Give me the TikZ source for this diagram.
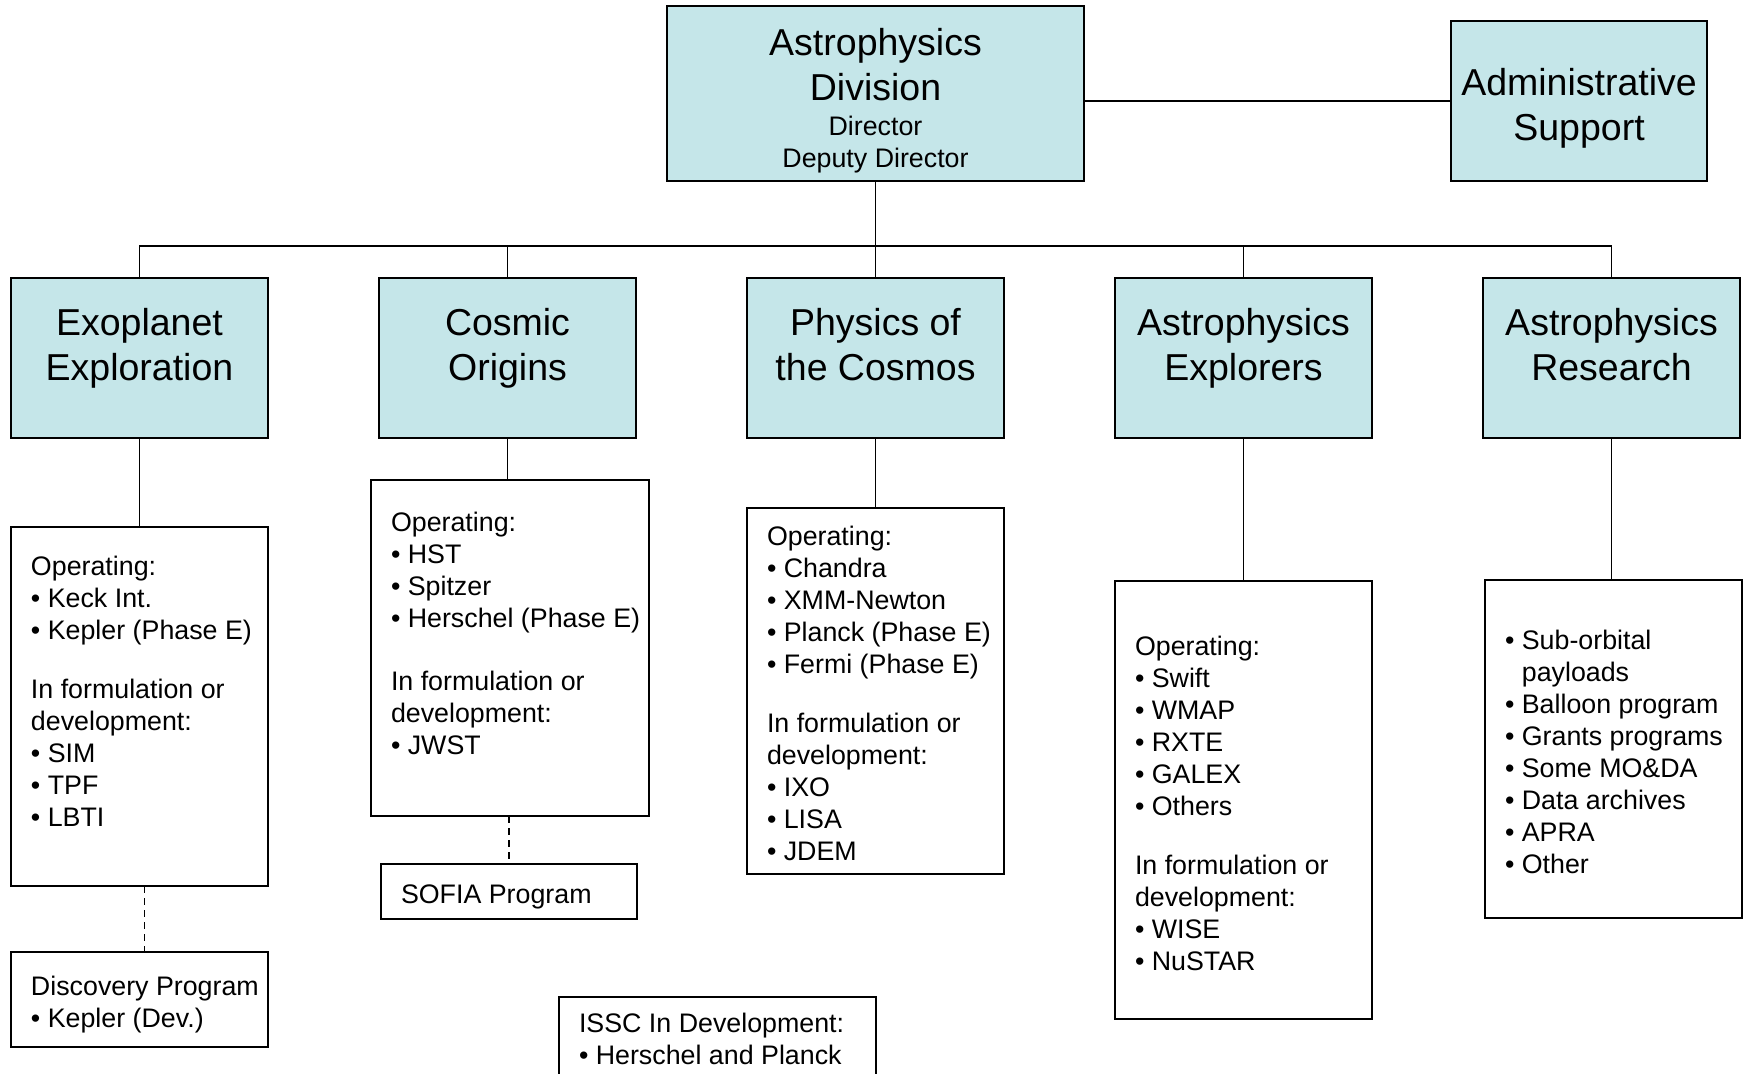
\documentclass[tikz,border=0pt]{standalone}
\usepackage{fontspec}
\setmainfont{Liberation Sans}
\definecolor{boxfill}{HTML}{C5E6E9}
\newcommand\HeadF{\fontsize{18.75}{22.65}\selectfont}
\newcommand\SmallF{\fontsize{13.4}{16}\selectfont}
\newcommand\TopF{\fontsize{13.4}{16.2}\selectfont}
\newcommand\HS{\rule{0pt}{15pt}}
\newcommand\LS{\rule{0pt}{11pt}}
\AtBeginDocument{\lineskiplimit=-30pt\relax}
\begin{document}
\begin{tikzpicture}[
  x=0.5pt, y=-0.5pt,
  every node/.style={inner sep=0pt, outer sep=0pt},
  every label/.style={inner sep=0pt, outer sep=0pt},
  hbox/.style={draw=black, line width=0.8pt, fill=boxfill, minimum width=128.5pt, minimum height=80pt},
  lbox/.style={draw=black, line width=0.8pt, fill=white, minimum width=128.5pt},
  conn/.style={line width=0.7pt},
  dconn/.style={line width=0.7pt, dash pattern=on 3.5pt off 2.5pt},
  htxt/.style={font=\HeadF, align=center, anchor=north},
  ltxt/.style={font=\SmallF, align=left, anchor=north west, xshift=10pt},
]
\useasboundingbox (0,0) rectangle (1743,1073);

% top level
\node[hbox, minimum width=208.5pt, minimum height=87.5pt,
  label={[font=\TopF, align=center, anchor=north, yshift=-9.6pt]north:{\HS{\HeadF Astrophysics}\\[6.3pt]{\HeadF Division}\\[1.2pt]Director\\Deputy Director}}]
  (top) at (875.5,93.5) {};
\node[hbox, minimum width=128pt, minimum height=80pt,
  label={[htxt, yshift=-22pt]north:{\HS Administrative\\Support}}]
  (adm) at (1579,101) {};

% headings
\node[hbox, label={[htxt, yshift=-13.5pt]north:{\HS Exoplanet\\Exploration}}] (h1) at (139.5,358) {};
\node[hbox, label={[htxt, yshift=-13.5pt]north:{\HS Cosmic\\Origins}}] (h2) at (507.5,358) {};
\node[hbox, label={[htxt, yshift=-13.5pt]north:{\HS Physics of\\the Cosmos}}] (h3) at (875.5,358) {};
\node[hbox, label={[htxt, yshift=-13.5pt]north:{\HS Astrophysics\\Explorers}}] (h4) at (1243.5,358) {};
\node[hbox, label={[htxt, yshift=-13.5pt]north:{\HS Astrophysics\\Research}}] (h5) at (1611.5,358) {};

% lower boxes
\node[lbox, minimum height=179.5pt,
  label={[ltxt, yshift=-13.4pt]north west:{\LS Operating:\\• Keck Int.\\• Kepler (Phase E)\\[13.4pt]In formulation or\\development:\\• SIM\\• TPF\\• LBTI}}]
  (eops) at (139.5,706.5) {};
\node[lbox, minimum height=47.5pt,
  label={[ltxt, yshift=-10.6pt]north west:{\LS Discovery Program\\• Kepler (Dev.)}}]
  (disc) at (139.5,999.5) {};
\node[lbox, minimum width=139pt, minimum height=168pt,
  label={[ltxt, yshift=-14.5pt]north west:{\LS Operating:\\• HST\\• Spitzer\\• Herschel (Phase E)\\[15.6pt]In formulation or\\development:\\• JWST}}]
  (cops) at (510,648) {};
\node[lbox, minimum width=128pt, minimum height=27.5pt,
  label={[ltxt, yshift=-8.6pt]north west:{\LS SOFIA Program}}]
  (sofia) at (509,891.5) {};
\node[lbox, minimum height=183pt,
  label={[ltxt, yshift=-7.6pt]north west:{\LS Operating:\\• Chandra\\• XMM-Newton\\• Planck (Phase E)\\• Fermi (Phase E)\\[13.4pt]In formulation or\\development:\\• IXO\\• LISA\\• JDEM}}]
  (pops) at (875.5,691) {};
\node[lbox, minimum width=158.5pt, minimum height=42pt,
  label={[ltxt, yshift=-6.6pt]north west:{\LS ISSC In Development:\\• Herschel and Planck}}]
  (issc) at (717.5,1039) {};
\node[lbox, minimum height=219pt,
  label={[ltxt, yshift=-26.1pt]north west:{\LS Operating:\\• Swift\\• WMAP\\• RXTE\\• GALEX\\• Others\\[13.4pt]In formulation or\\development:\\• WISE\\• NuSTAR}}]
  (xops) at (1243.5,800) {};
\node[lbox, minimum height=169pt,
  label={[ltxt, yshift=-23.9pt]north west:{\LS • Sub-orbital\\\phantom{•\ }payloads\\• Balloon program\\• Grants programs\\• Some MO\&DA\\• Data archives\\• APRA\\• Other}}]
  (rops) at (1613.5,749) {};

% connectors
\coordinate (bus) at (0,246);
\draw[conn] (adm.west) -- (adm.west -| top.east);
\draw[conn] (top.south) -- (h3.north);
\draw[conn] (h1.north) -- (h1.north |- bus) -- (h5.north |- bus) -- (h5.north);
\draw[conn] (h2.north) -- (h2.north |- bus);
\draw[conn] (h4.north) -- (h4.north |- bus);

\draw[conn] (h1.south) -- (eops.north);
\draw[conn] (h2.south) -- (h2.south |- cops.north);
\draw[conn] (h3.south) -- (pops.north);
\draw[conn] (h4.south) -- (xops.north);
\draw[conn] (h5.south) -- (h5.south |- rops.north);

\draw[dconn] ([xshift=2.5pt]eops.south) -- ([xshift=2.5pt]disc.north);
\draw[dconn] (sofia.north |- cops.south) -- (sofia.north);
\end{tikzpicture}
\end{document}
